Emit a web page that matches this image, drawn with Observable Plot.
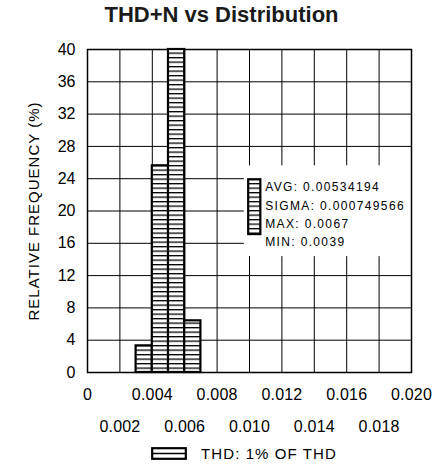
<!DOCTYPE html>
<html><head><meta charset="utf-8">
<script src="https://cdn.jsdelivr.net/npm/d3@7"></script>
<script src="https://cdn.jsdelivr.net/npm/@observablehq/plot@0.6"></script>
<style>
body{margin:0;background:#fff;width:435px;height:466px;overflow:hidden;font-family:"Liberation Sans",Arial,sans-serif;color:#000;}
#title{height:30px;line-height:30px;text-align:center;font-weight:bold;font-size:22px;color:#1a1a1a;padding-left:8px;}
#chart{height:406px;}
#legend{height:34px;display:flex;align-items:center;padding-left:151px;font-size:15px;letter-spacing:1.1px;}
#legend svg{margin-right:14px;}
</style></head><body>
<div id="title">THD+N vs Distribution</div>
<div id="chart"></div>
<div id="legend"></div>
<script>
// ---- data ----
const binStart = [0.003, 0.004, 0.005, 0.006];
const binEnd = [0.004, 0.005, 0.006, 0.007];
const frequency = [3.3, 25.6, 40, 6.4];
const xTicks = [0, 0.002, 0.004, 0.006, 0.008, 0.010, 0.012, 0.014, 0.016, 0.018, 0.020];
const yTicks = [0, 4, 8, 12, 16, 20, 24, 28, 32, 36, 40];
const statLabels = ["AVG", "SIGMA", "MAX", "MIN"];
const statValues = ["0.00534194", "0.000749566", "0.0067", "0.0039"];
const seriesName = "THD: 1% OF THD";
const yLabel = "RELATIVE FREQUENCY (%)";

// ---- annotation placement (data space) ----
const statsBox = [{x1: 0.00968, x2: 0.020, y1: 14.35, y2: 25.6}];
const statsSwatch = [{x1: 0.00995, x2: 0.0107, y1: 17.08, y2: 23.87}];
const statsTextAnchor = {x: 0.01097, y: 19.75};

const bins = binStart.map((s, i) => ({x1: s, x2: binEnd[i], y: frequency[i]}));
const fmt = d => d === 0 ? "0" : d.toFixed(3);
const evenTicks = xTicks.filter((d, i) => i % 2 === 0);
const oddTicks = xTicks.filter((d, i) => i % 2 === 1);
const statsText = statLabels.map((l, i) => `${l}: ${statValues[i]}`).join("\n");

const plot = Plot.plot({
  width: 435,
  height: 406,
  marginLeft: 87,
  marginRight: 24,
  marginTop: 19,
  marginBottom: 64,
  x: {domain: [0, 0.020], axis: null},
  y: {domain: [0, 40], axis: null},
  style: {fontFamily: "Liberation Sans, Arial, sans-serif", background: "white", color: "black"},
  marks: [
    Plot.ruleX(xTicks, {stroke: "black", strokeWidth: 1}),
    Plot.ruleY(yTicks, {stroke: "black", strokeWidth: 1}),
    Plot.rect(statsBox, {x1: "x1", x2: "x2", y1: "y1", y2: "y2", fill: "white"}),
    Plot.frame({stroke: "black", strokeWidth: 1.5}),
    Plot.rect(bins, {x1: "x1", x2: "x2", y1: 0, y2: "y", fill: "url(#hatch)", stroke: "black", strokeWidth: 2.2}),
    Plot.rect(statsSwatch, {x1: "x1", x2: "x2", y1: "y1", y2: "y2", fill: "url(#hatch)", stroke: "black", strokeWidth: 2.2}),
    Plot.text([statsText], {x: statsTextAnchor.x, y: statsTextAnchor.y, textAnchor: "start", lineAnchor: "middle", lineHeight: 1.525, fontSize: 12, ariaDescription: "stats"}),
    Plot.text(evenTicks, {x: d => d, frameAnchor: "bottom", dy: 22.3, text: fmt, fontSize: 16, lineAnchor: "middle", ariaDescription: "xticks"}),
    Plot.text(oddTicks, {x: d => d, frameAnchor: "bottom", dy: 54.3, text: fmt, fontSize: 16, lineAnchor: "middle", ariaDescription: "xticks"}),
    Plot.text(yTicks, {y: d => d, frameAnchor: "left", dx: -12, text: d => String(d), textAnchor: "end", fontSize: 16, lineAnchor: "middle", ariaDescription: "yticks"}),
    Plot.text([yLabel], {frameAnchor: "left", dx: -53, rotate: -90, textAnchor: "middle", fontSize: 15, lineAnchor: "middle", ariaDescription: "ylabel"})
  ]
});

// hatch pattern
const svg = d3.select(plot);
const defs = svg.insert("defs", ":first-child");
const pat = defs.append("pattern").attr("id", "hatch").attr("patternUnits", "userSpaceOnUse")
  .attr("width", 8).attr("height", 4.5);
pat.append("rect").attr("width", 8).attr("height", 4.5).attr("fill", "white");
pat.append("rect").attr("y", 0).attr("width", 8).attr("height", 1.3).attr("fill", "black");

svg.selectAll('g[aria-description="stats"] text').style("letter-spacing", "1.35px");
svg.selectAll('g[aria-description="ylabel"] text').style("letter-spacing", "1px");
svg.selectAll('g[aria-description="xticks"] text').style("letter-spacing", "0.2px");

document.getElementById("chart").appendChild(plot);

// bottom legend
const leg = d3.select("#legend");
const sw = leg.append("svg").attr("width", 36).attr("height", 13);
sw.append("rect").attr("x", 1.2).attr("y", 1.2).attr("width", 33.6).attr("height", 10.6)
  .attr("fill", "white").attr("stroke", "black").attr("stroke-width", 2.2);
sw.append("line").attr("x1", 1.2).attr("x2", 34.8).attr("y1", 6.5).attr("y2", 6.5)
  .attr("stroke", "black").attr("stroke-width", 1.3);
leg.append("span").text(seriesName);
</script>
</body></html>
